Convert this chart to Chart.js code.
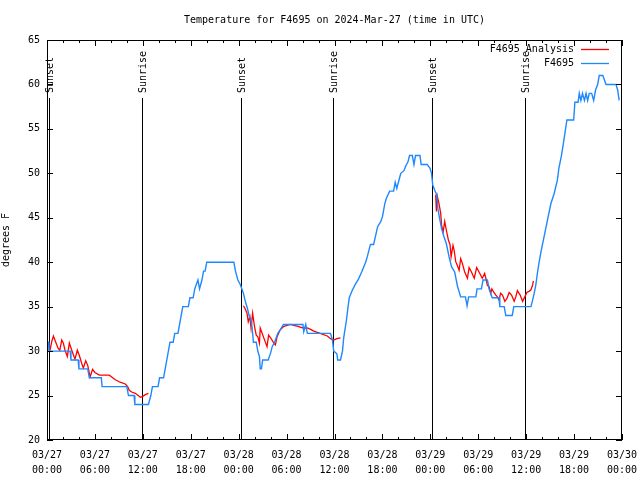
<!DOCTYPE html>
<html>
<head>
<meta charset="utf-8">
<script src="https://cdn.jsdelivr.net/npm/chart.js@4/dist/chart.umd.min.js"></script>
<style>
  html, body { margin: 0; background: #fff; }
</style>
</head>
<body>
<canvas id="chart" width="640" height="480"></canvas>
<script>
/* ── Temperature for F4695 — station obs vs analysis, 3 days ── */

// hours since 03/27 00:00 UTC, temperature in °F
const stationObs = [
  [0,31],[0.2,31],[0.25,30],[2.9,30],[3.0,29],[3.9,29],[4.0,28],[5.1,28],[5.3,27],[6.8,27],
  [6.9,26],[10.0,26],[10.2,25],[10.9,25],[11.0,24],[12.7,24],[13.0,25],[13.2,26],[13.9,26],[14.1,27],
  [14.6,27],[14.8,28],[15.0,29],[15.2,30],[15.4,31],[15.8,31],[16.0,32],[16.4,32],[16.6,33],[16.8,34],
  [17.0,35],[17.7,35],[17.9,36],[18.3,36],[18.5,37],[18.9,38],[19.1,37],[19.4,38],[19.6,39],[19.8,39],
  [20.0,40],[23.4,40],[23.6,39],[23.9,38],[24.2,37.5],[24.4,37],[24.6,36.5],[24.8,35.7],[25.1,34.8],[25.3,34],
  [25.6,33.3],[25.75,32],[25.85,31],[26.2,31],[26.4,30],[26.6,29.4],[26.7,28],[26.85,28],[27.0,29],[27.7,29],
  [28.0,29.8],[28.2,30.5],[28.5,31],[28.9,32],[29.2,32.4],[29.6,33],[32.05,33],[32.15,32.2],[32.4,33],[32.6,32],
  [35.5,32],[35.75,31.2],[35.9,30],[36.3,29.7],[36.4,29],[36.75,29],[37.0,30],[37.15,31.5],[37.5,33.5],[37.7,35],
  [37.85,36],[38.2,36.8],[38.6,37.5],[39.0,38.1],[39.4,38.9],[39.9,40],[40.1,40.6],[40.5,42],[40.9,42],[41.15,43],
  [41.4,44],[41.8,44.6],[42.0,45.1],[42.3,46.6],[42.5,47.2],[42.9,48],[43.4,48],[43.6,49],[43.8,48.3],[44.0,49],
  [44.3,50],[44.7,50.3],[44.9,50.8],[45.2,51.3],[45.4,52],[45.75,52],[45.95,51],[46.15,52],[46.7,52],[46.85,51],
  [47.6,51],[47.95,50.6],[48.15,50],[48.3,48.7],[48.55,48.1],[48.8,47.6],[48.95,46],[49.15,45],[49.4,43.8],[49.7,42.9],
  [50.0,42.1],[50.35,40.6],[50.65,39.5],[51.05,38.9],[51.4,37.3],[51.8,36.1],[52.4,36.1],[52.6,35.1],[52.8,36.1],[53.7,36.1],
  [53.85,37],[54.4,37],[54.6,38],[55.15,38],[55.35,37],[55.75,36],[56.6,36],[56.7,35],[57.25,35],[57.45,34],
  [58.25,34],[58.45,35],[60.6,35],[60.8,35.7],[61.0,36.5],[61.2,37.4],[61.4,38.7],[61.6,39.9],[61.9,41.4],[62.25,42.9],
  [62.5,44],[62.75,45.1],[63.1,46.6],[63.5,47.7],[63.9,49.2],[64.1,50.6],[64.4,51.9],[64.6,53],[64.85,54.5],[65.1,56],
  [65.95,56],[66.1,58],[66.5,58],[66.65,59],[66.85,58.2],[67.05,59],[67.3,58.2],[67.5,59],[67.7,58.2],[67.9,59],
  [68.2,59],[68.45,58.2],[68.7,59.4],[68.95,60],[69.15,61],[69.6,61],[70.0,60],[71.25,60],[71.45,59.4],[71.65,58.2],
];

// analysis runs, one per night
const analysisNight1 = [
  [0.35,30],[0.6,31.1],[0.8,31.7],[1.1,31],[1.4,30.3],[1.6,30.1],[1.85,31.25],[2.05,30.9],[2.25,30.1],[2.55,29.4],
  [2.8,30.9],[3.1,30.1],[3.3,29.6],[3.5,29.1],[3.8,30.1],[4.05,29.5],[4.35,28.6],[4.55,28.1],[4.85,28.9],[5.1,28.4],
  [5.4,27.1],[5.7,27.95],[6.0,27.6],[6.55,27.3],[7.8,27.3],[8.1,27.1],[8.5,26.8],[9.15,26.5],[9.8,26.3],[10.1,26.0],
  [10.3,25.6],[10.6,25.4],[11.05,25.25],[11.7,24.8],[12.0,24.9],[12.3,25.1],[12.7,25.25],
];
const analysisNight2 = [
  [24.6,35.1],[24.8,34.8],[25.05,34.25],[25.2,33.3],[25.4,33.9],[25.55,32.6],[25.75,34.25],[25.9,33.3],[26.0,32.7],[26.2,31.8],
  [26.4,31.6],[26.6,30.9],[26.7,32.6],[26.9,32.1],[27.1,31.6],[27.55,30.5],[27.75,31.8],[28.0,31.5],[28.4,30.9],[28.6,30.7],
  [28.8,31.6],[29.2,32.4],[29.6,32.75],[30.05,32.9],[30.5,33.0],[30.9,32.9],[31.3,32.8],[31.7,32.7],[32.1,32.6],[32.6,32.6],
  [33.0,32.45],[33.4,32.25],[34.2,32],[35.1,31.7],[35.5,31.4],[35.9,31.25],[36.3,31.4],[36.75,31.5],
];
const analysisNight3 = [
  [48.67,47.6],[48.76,45.7],[48.88,47.4],[49.1,46.5],[49.3,45.5],[49.4,44.2],[49.6,43.4],[49.8,44.6],[50.05,43.4],[50.26,42.5],
  [50.46,42],[50.6,40.6],[50.84,41.9],[50.97,41.4],[51.18,40.06],[51.4,39.6],[51.6,39.1],[51.8,40.4],[52.0,39.9],[52.3,38.9],
  [52.65,38.2],[52.85,39.4],[53.15,38.9],[53.5,38.2],[53.8,39.4],[54.1,38.9],[54.5,38.2],[54.8,38.75],[54.95,38.2],[55.15,37.4],
  [55.36,37.25],[55.57,36.5],[55.7,37],[55.9,36.7],[56.2,36.3],[56.4,36.1],[56.6,35.75],[56.8,36.5],[57.04,36.3],[57.33,35.6],
  [57.58,35.9],[57.87,36.6],[58.17,36.3],[58.5,35.6],[58.7,36.1],[58.9,36.8],[59.25,36.3],[59.55,35.6],[59.83,36.1],[60.08,36.6],
  [60.4,36.75],[60.6,36.9],[60.8,37.4],[60.9,37.9],
];

const sunHours  = [0.2, 11.95, 24.3, 35.8, 48.2, 59.85];
const sunLabels = ['Sunset', 'Sunrise', 'Sunset', 'Sunrise', 'Sunset', 'Sunrise'];

const tickDates = ['03/27','03/27','03/27','03/27','03/28','03/28','03/28','03/28','03/29','03/29','03/29','03/29','03/30'];
const tickTimes = ['00:00','06:00','12:00','18:00','00:00','06:00','12:00','18:00','00:00','06:00','12:00','18:00','00:00'];

const FONT_FAMILY = "'DejaVu Sans Mono', monospace";
const FONT = '10px ' + FONT_FAMILY;

const toPts = arr => arr.map(([x, y]) => ({ x, y }));
const analysisData = [
  ...toPts(analysisNight1), { x: 18, y: null },
  ...toPts(analysisNight2), { x: 42, y: null },
  ...toPts(analysisNight3),
];

// gnuplot-ish frame: box, inward ticks, sun markers, legend
const framePlugin = {
  id: 'frame',
  beforeDatasetsDraw(chart) {
    const { ctx, chartArea: a, scales: { x } } = chart;
    ctx.save();
    ctx.strokeStyle = '#000';
    ctx.lineWidth = 1;
    ctx.fillStyle = '#000';
    ctx.font = FONT;
    sunHours.forEach((h, i) => {
      const px = Math.round(x.getPixelForValue(h)) + 0.5;
      ctx.beginPath();
      ctx.moveTo(px, a.top + 58);
      ctx.lineTo(px, a.bottom);
      ctx.stroke();
      ctx.save();
      ctx.translate(px + 1, a.top + 53);
      ctx.rotate(-Math.PI / 2);
      ctx.textAlign = 'left';
      ctx.textBaseline = 'middle';
      ctx.fillText(sunLabels[i], 0, 0);
      ctx.restore();
    });
    ctx.restore();
  },
  afterDatasetsDraw(chart) {
    const { ctx, chartArea: a, scales: { x, y } } = chart;
    ctx.save();
    ctx.strokeStyle = '#000';
    ctx.lineWidth = 1;
    ctx.strokeRect(a.left + 0.5, a.top + 0.5, a.right - a.left - 1, a.bottom - a.top - 1);

    ctx.beginPath();
    for (let h = 0; h <= 72; h += 2) {
      const px = Math.round(x.getPixelForValue(h)) + 0.5;
      const len = h % 6 === 0 ? 6 : 3;
      ctx.moveTo(px, a.bottom); ctx.lineTo(px, a.bottom - len);
      ctx.moveTo(px, a.top);    ctx.lineTo(px, a.top + len);
    }
    for (let v = 20; v <= 65; v += 5) {
      const py = Math.round(y.getPixelForValue(v)) + 0.5;
      ctx.moveTo(a.left, py);  ctx.lineTo(a.left + 6, py);
      ctx.moveTo(a.right, py); ctx.lineTo(a.right - 6, py);
    }
    ctx.stroke();

    // legend: text then sample line, top right
    const lx = a.right - 41;
    const rows = [chart.data.datasets[1], chart.data.datasets[0]];
    ctx.font = FONT;
    ctx.textAlign = 'right';
    ctx.textBaseline = 'middle';
    rows.forEach((ds, i) => {
      const ly = a.top + 9 + i * 14;
      ctx.fillStyle = '#000';
      ctx.fillText(ds.label, lx - 7, ly);
      ctx.strokeStyle = ds.borderColor;
      ctx.lineWidth = 1.3;
      ctx.beginPath();
      ctx.moveTo(lx, ly + 0.5); ctx.lineTo(lx + 28, ly + 0.5);
      ctx.stroke();
    });
    ctx.restore();
  }
};

new Chart(document.getElementById('chart'), {
  type: 'line',
  data: {
    datasets: [
      {
        label: 'F4695',
        data: toPts(stationObs),
        borderColor: '#1e88ff',
        borderWidth: 1.4,
        pointRadius: 0,
        tension: 0,
        order: 0,
      },
      {
        label: 'F4695 Analysis',
        data: analysisData,
        borderColor: '#ff0000',
        borderWidth: 1.3,
        pointRadius: 0,
        tension: 0,
        spanGaps: false,
        order: 1,
      },
    ]
  },
  options: {
    responsive: false,
    animation: false,
    layout: { padding: { top: 0, right: 18, bottom: 0, left: 0 } },
    plugins: {
      legend: { display: false },
      tooltip: { enabled: false },
      title: {
        display: true,
        fullSize: false,
        text: 'Temperature for F4695 on 2024-Mar-27 (time in UTC)',
        color: '#000',
        font: { family: FONT_FAMILY, size: 10, weight: 'normal' },
        padding: { top: 14, bottom: 14 },
      },
    },
    scales: {
      x: {
        type: 'linear',
        min: 0, max: 72,
        afterFit: s => { s.height = 40; s.paddingLeft = 0; s.paddingRight = 0; },
        grid: { display: false, drawTicks: false },
        border: { display: false },
        ticks: {
          stepSize: 6, autoSkip: false, maxRotation: 0, padding: 8,
          color: '#000',
          font: { family: FONT_FAMILY, size: 10, lineHeight: 1.5 },
          callback: v => [tickDates[v / 6], tickTimes[v / 6]],
        },
      },
      y: {
        min: 20, max: 65,
        afterFit: s => { s.width = 47; },
        grid: { display: false, drawTicks: false },
        border: { display: false },
        title: {
          display: true, text: 'degrees F', color: '#000',
          font: { family: FONT_FAMILY, size: 10 }, padding: { top: 0, bottom: 0 },
        },
        ticks: {
          stepSize: 5, padding: 7, color: '#000',
          font: { family: FONT_FAMILY, size: 10 },
        },
      },
    }
  },
  plugins: [framePlugin]
});
</script>
</body>
</html>
